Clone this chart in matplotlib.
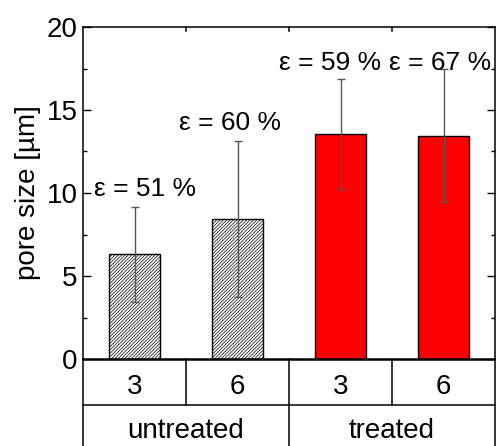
import matplotlib
matplotlib.use('Agg')
import matplotlib.pyplot as plt
import matplotlib.transforms as mtransforms

plt.rcParams['font.family'] = ['Liberation Sans', 'DejaVu Sans']
plt.rcParams['hatch.linewidth'] = 0.5

# data
groups = ['untreated', 'treated']
times = ['3', '6', '3', '6']
pore_size = [6.3, 8.45, 13.55, 13.45]
pore_err = [2.85, 4.7, 3.3, 4.0]
porosity = ['51', '60', '59', '67']

# where the porosity labels sit (x, baseline y in data units)
label_pos = [(0.10, 9.8), (0.93, 13.8), (1.90, 17.4), (2.97, 17.4)]

fig = plt.figure(figsize=(4.96, 4.46), dpi=100)
ax = fig.add_axes([83 / 496, 87 / 446, 412 / 496, 332 / 446])

x = list(range(len(pore_size)))
face = ['white', 'white', '#ff0000', '#ff0000']
hatch = ['/' * 10, '/' * 10, None, None]
for i in x:
    ax.bar(i, pore_size[i], width=0.5, color=face[i], edgecolor='black',
           linewidth=1.0, hatch=hatch[i], zorder=2)
ax.errorbar(x, pore_size, yerr=pore_err, fmt='none', ecolor='#555555',
            elinewidth=1.0, capsize=3, capthick=1.0, zorder=3)

for i in x:
    ax.text(label_pos[i][0], label_pos[i][1], 'ε = ' + porosity[i] + ' %',
            ha='center', va='baseline', fontsize=19, clip_on=False)

ax.set_xlim(-0.5, 3.5)
ax.set_ylim(0, 20)
ax.set_yticks([0, 5, 10, 15, 20])
ax.set_yticks([2.5, 7.5, 12.5, 17.5], minor=True)
ax.set_xticks([])
ax.set_ylabel('pore size [µm]', fontsize=20, labelpad=4)
ax.tick_params(axis='y', which='major', direction='in', length=6, width=1,
               labelsize=20, right=True, pad=4)
ax.tick_params(axis='y', which='minor', direction='in', length=3, width=1, right=True)
for s in ['left', 'right', 'top']:
    ax.spines[s].set_linewidth(1.1)
ax.spines['bottom'].set_linewidth(1.8)

# top ticks on the category borders
trans = mtransforms.blended_transform_factory(ax.transData, ax.transAxes)
for b in [0.5, 1.5, 2.5]:
    ax.plot([b, b], [1, 1 - 4 / 332], color='black', lw=1.1, transform=trans, clip_on=False)

# table under the axis
row1 = -46 / 332
row2 = -87 / 332
ax.plot([-0.5, 3.5], [row1, row1], color='black', lw=1.1, transform=trans, clip_on=False)
for b in [0.5, 2.5]:
    ax.plot([b, b], [0, row1], color='black', lw=1.1, transform=trans, clip_on=False)
for b in [-0.5, 1.5, 3.5]:
    ax.plot([b, b], [0, row2], color='black', lw=1.1, transform=trans, clip_on=False)

for i in x:
    ax.text(i, -35 / 332, times[i], ha='center', va='baseline', fontsize=20,
            transform=trans, clip_on=False)
for j, g in enumerate(groups):
    ax.text(0.5 + 2 * j, -79 / 332, g, ha='center', va='baseline', fontsize=20,
            transform=trans, clip_on=False)

fig.savefig('out.png', dpi=100)
